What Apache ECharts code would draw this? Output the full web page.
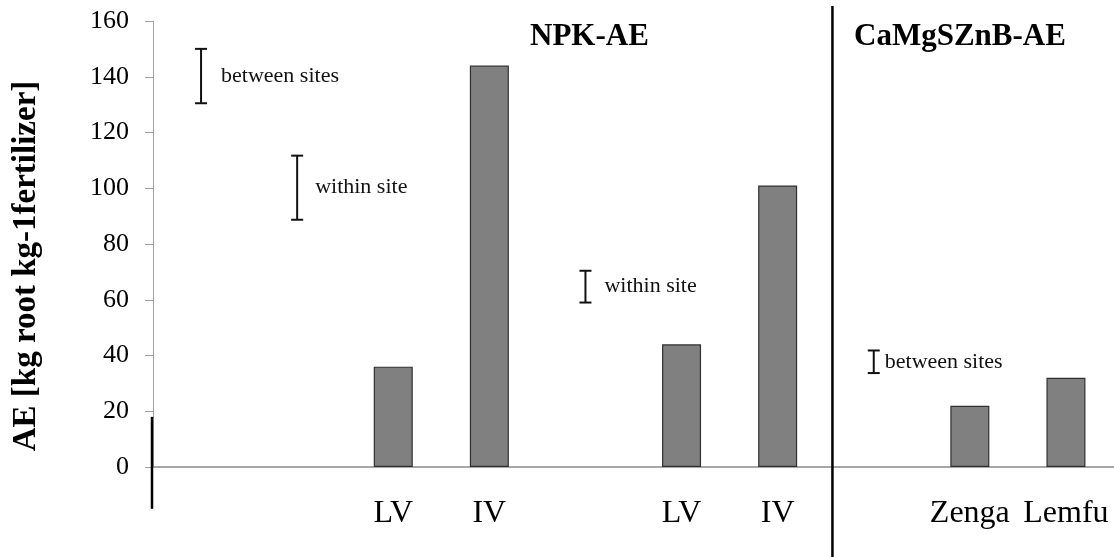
<html>
<head>
<meta charset="utf-8">
<script src="https://cdn.jsdelivr.net/npm/echarts@6/dist/echarts.min.js"></script>
<style>
	html, body { margin:0; padding:0; background:#fff; }
	#main { width:1114px; height:557px; }
</style>
</head>
<body>
<div id="main"></div>
<script>
	var FONT = "'Liberation Serif', 'Times New Roman', serif";

	// categories along the x axis (empty slots keep the spacing)
	var categories = ['', '', 'LV', 'IV', '', 'LV', 'IV', '', 'Zenga', 'Lemfu'];
	var aeValues = [null, null, 36, 144, null, 44, 101, null, 22, 32];
	var yTicks = [0, 160, 20];   // min, max, interval

	// LSD bars: category index, low, high
	var noteX = [0, 1, 4, 7];
	var noteLow = [130.5, 88.7, 59, 33.7];
	var noteHigh = [150, 111.7, 70.4, 41.8];
	var noteText = ['between sites', 'within site', 'within site', 'between sites'];
	var noteGap = [20, 18, 19, 11];

	var groupTitles = ['NPK-AE', 'CaMgSZnB-AE'];

	var noteData = [];
	for (var i = 0; i < noteX.length; i++) {
		noteData.push([noteX[i], noteLow[i], noteHigh[i]]);
	}

	function renderNote(params, api) {
		var lo = api.coord([api.value(0), api.value(1)]);
		var hi = api.coord([api.value(0), api.value(2)]);
		var cap = 6;
		var st = { stroke: '#111', lineWidth: 2 };
		return {
			type: 'group',
			children: [
				{ type: 'line', shape: { x1: lo[0], y1: lo[1], x2: hi[0], y2: hi[1] }, style: st },
				{ type: 'line', shape: { x1: lo[0] - cap, y1: lo[1], x2: lo[0] + cap, y2: lo[1] }, style: st },
				{ type: 'line', shape: { x1: hi[0] - cap, y1: hi[1], x2: hi[0] + cap, y2: hi[1] }, style: st },
				{
					type: 'text',
					x: lo[0] + noteGap[params.dataIndex],
					y: (lo[1] + hi[1]) / 2,
					style: {
						text: noteText[params.dataIndex],
						font: '22px ' + FONT,
						fill: '#111',
						verticalAlign: 'middle'
					}
				}
			]
		};
	}

	var myChart = echarts.init(document.getElementById('main'));
	var option = {
		animation: false,
		backgroundColor: '#fff',
		title: [
			{ text: groupTitles[0], left: 525, top: 16, textStyle: { fontFamily: FONT, fontSize: 31, fontWeight: 'bold', color: '#000' } },
			{ text: groupTitles[1], left: 849, top: 16, textStyle: { fontFamily: FONT, fontSize: 31, fontWeight: 'bold', color: '#000' } }
		],
		grid: { left: 153, right: 0, top: 21, bottom: 90 },
		xAxis: [{
			type: 'category',
			data: categories,
			axisLine: { lineStyle: { color: '#8a8a8a', width: 1.5 } },
			axisTick: { show: false },
			axisLabel: { interval: 0, margin: 31, fontFamily: FONT, fontSize: 32, color: '#000' }
		}, {
			type: 'value', min: 0, max: categories.length, show: false
		}],
		yAxis: {
			type: 'value',
			min: yTicks[0], max: yTicks[1], interval: yTicks[2],
			splitLine: { show: false },
			axisLine: { show: true, lineStyle: { color: '#a0a0a0', width: 1 } },
			axisTick: { show: true, length: 8, lineStyle: { color: '#a0a0a0' } },
			axisLabel: { margin: 24, fontFamily: FONT, fontSize: 26, color: '#000' }
		},
		series: [{
			type: 'bar',
			data: aeValues,
			barWidth: 39,
			itemStyle: { color: '#808080', borderColor: '#303030', borderWidth: 1.2 }
		}, {
			type: 'custom',
			renderItem: renderNote,
			data: noteData,
			clip: false,
			z: 5
		}]
	};
	myChart.setOption(option);

	// divider between the two groups and the short black stub on the y axis
	var divX = myChart.convertToPixel({ xAxisIndex: 1 }, 7.07);
	var axisX = myChart.convertToPixel({ xAxisIndex: 1 }, 0);
	var stubTop = myChart.convertToPixel({ yAxisIndex: 0 }, 18);
	var stubBot = myChart.convertToPixel({ yAxisIndex: 0 }, -15);
	myChart.setOption({
		graphic: [
			{ type: 'line', shape: { x1: divX, y1: 6, x2: divX, y2: 557 }, style: { stroke: '#000', lineWidth: 2.5 }, z: 10 },
			{ type: 'line', shape: { x1: axisX - 1, y1: stubTop, x2: axisX - 1, y2: stubBot }, style: { stroke: '#000', lineWidth: 2.5 }, z: 10 },
			{
				type: 'text', x: 26, y: 266, rotation: Math.PI / 2,
				style: { text: 'AE [kg root kg-1fertilizer]', font: 'bold 33px ' + FONT, fill: '#000', align: 'center', verticalAlign: 'middle' }
			}
		]
	});
</script>
</body>
</html>
